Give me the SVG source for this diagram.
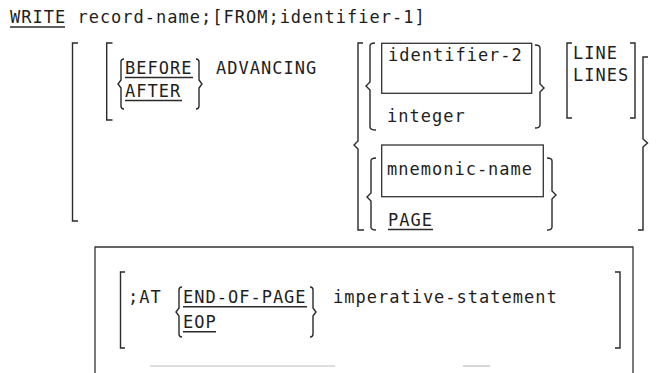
<svg xmlns="http://www.w3.org/2000/svg" width="663" height="373" viewBox="0 0 663 373">
<style>
text{font-family:"DejaVu Sans Mono","Liberation Mono",monospace;font-size:17px;letter-spacing:1px;fill:#1e1e1e}
.b{fill:none;stroke:#2a2a2a;stroke-width:1.4;stroke-linejoin:miter}
.u{stroke:#2a2a2a;stroke-width:1.4}
.box{fill:none;stroke:#333;stroke-width:1.3}
.faint{stroke:#bbb;stroke-width:1.2}
</style>
<rect width="663" height="373" fill="#fff"/>

<g id="write-line">
<text x="10" y="23">WRITE record-name;[FROM;identifier-1]</text>
<line class="u" x1="10" y1="27" x2="65" y2="27"/>
</g>

<g id="advancing-clause">
<path class="b" d="M78 43 H72.5 V221 H78"/>
<path class="b" d="M112.5 43 H106.7 V120 H112.5"/>
<path class="b" d="M124 59 Q121 59 121 62 V80 L118 84 L121 88 V106 Q121 109 124 109"/>
<text x="125" y="74">BEFORE</text>
<line class="u" x1="125" y1="77.5" x2="193" y2="77.5"/>
<text x="125" y="97">AFTER</text>
<line class="u" x1="125" y1="100.5" x2="182" y2="100.5"/>
<path class="b" d="M196 59 Q199 59 199 62 V80 L202 84 L199 88 V106 Q199 109 196 109"/>
<text x="216" y="74">ADVANCING</text>
</g>

<g id="choice-group">
<path class="b" d="M363 43 H358 V141 L354 145 L358 149 V230 H364"/>
<path class="b" d="M648 57 H643 V139 L647.5 143 L643 147 V230 H638"/>
</g>

<g id="identifier-group">
<path class="b" d="M375 43 Q370 43 370 46 V82 L366 86 L370 90 V127 Q370 130 376 130"/>
<rect class="box" x="381.7" y="43.3" width="150" height="50"/>
<text x="388" y="61">identifier-2</text>
<text x="387" y="122">integer</text>
<path class="b" d="M535 45 Q540 45 540 48 V84 L544 88 L540 92 V125 Q540 128 535 128"/>
</g>

<g id="line-lines">
<path class="b" d="M572 43 H567 V118 H572"/>
<text x="573" y="59">LINE</text>
<text x="573" y="81">LINES</text>
<path class="b" d="M630 43 H635 V118 H630"/>
</g>

<g id="mnemonic-group">
<path class="b" d="M376 158 Q371 158 371 161 V193 L367 197 L371 201 V227 Q371 230 376 230"/>
<rect class="box" x="381.7" y="145" width="161.6" height="51.7"/>
<text x="387" y="175">mnemonic-name</text>
<text x="388" y="226">PAGE</text>
<line class="u" x1="388" y1="229.5" x2="433" y2="229.5"/>
<path class="b" d="M547 158 Q552 158 552 161 V191 L556 195 L552 199 V227 Q552 230 547 230"/>
</g>

<g id="end-of-page-box">
<path class="box" d="M95 373 V247 H633 V373"/>
<line class="faint" x1="150" y1="366" x2="335" y2="366"/>
<line class="faint" x1="463" y1="366" x2="490" y2="366"/>
<path class="b" d="M125 272 H120.5 V348 H125"/>
<text x="128" y="303">;AT</text>
<path class="b" d="M182 287 Q179 287 179 290 V308 L176 312 L179 316 V334 Q179 337 182 337"/>
<text x="183" y="303">END-OF-PAGE</text>
<line class="u" x1="183" y1="306.7" x2="307" y2="306.7"/>
<text x="183" y="328">EOP</text>
<line class="u" x1="183" y1="331.7" x2="216" y2="331.7"/>
<path class="b" d="M310 287 Q313 287 313 290 V308 L316 312 L313 316 V334 Q313 337 310 337"/>
<text x="333" y="303">imperative-statement</text>
<path class="b" d="M615 272 H620 V348 H615"/>
</g>
</svg>
